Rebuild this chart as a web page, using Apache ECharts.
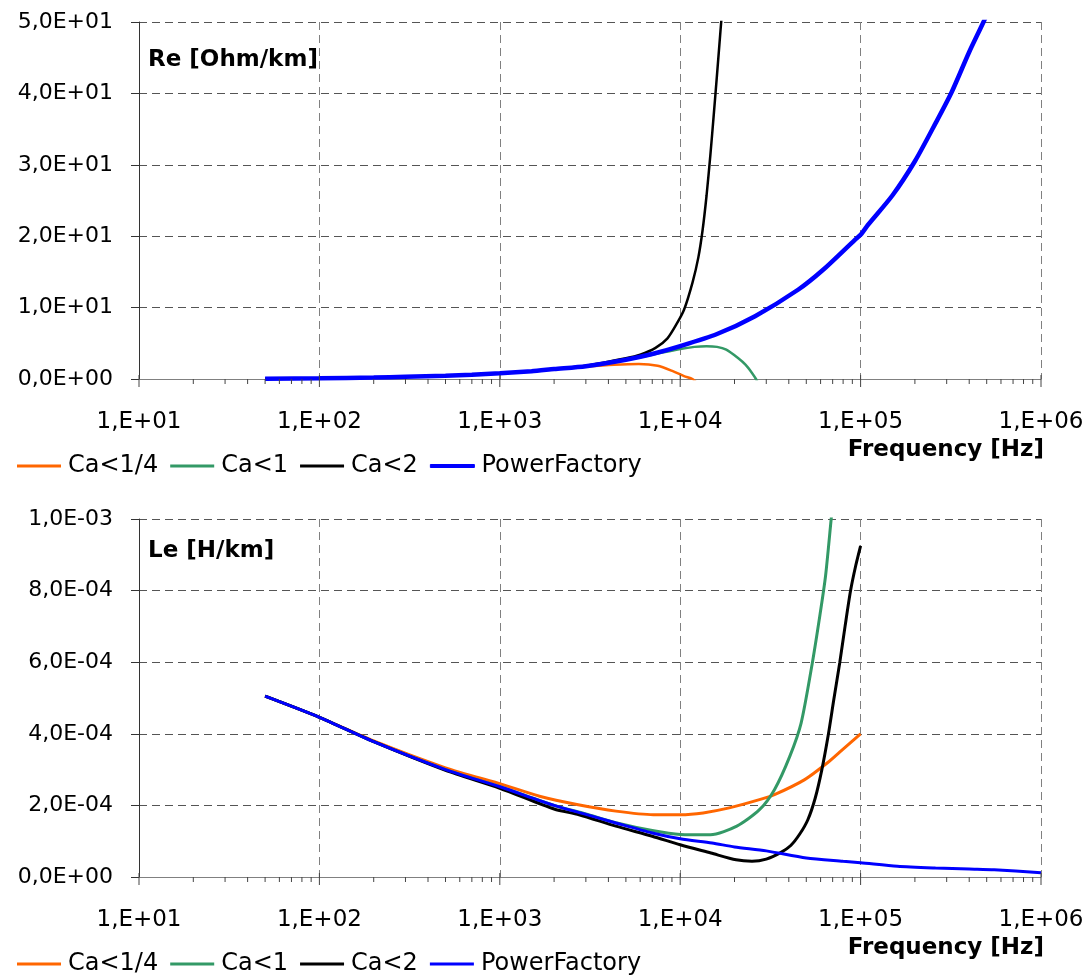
<!DOCTYPE html>
<html>
<head>
<meta charset="utf-8">
<title>Re / Le vs frequency</title>
<script src="https://cdn.jsdelivr.net/npm/echarts@6/dist/echarts.min.js"></script>
<style>
  html, body { margin: 0; padding: 0; background: #fff; }
  #chart { width: 1091px; height: 975px; }
</style>
</head>
<body>
<div id="chart"></div>
<script>
const FONT = 'DejaVu Sans'

const seriesNames = ['Ca<1/4', 'Ca<1', 'Ca<2', 'PowerFactory']
const seriesColors = ['#ff6600', '#339966', '#000000', '#0000ff']

// Re [Ohm/km]: [frequency Hz, value]
const reCa14 = [[50, 0.05], [100, 0.12], [200, 0.2], [300, 0.3], [500, 0.45], [700, 0.58], [1000, 0.8],
  [1500, 1.1], [2000, 1.4], [3000, 1.75], [4300, 2.0], [5900, 2.1], [7500, 1.85], [9100, 1.1],
  [10500, 0.4], [11700, 0], [12200, -0.4]]
const reCa1 = [[50, 0.05], [100, 0.12], [200, 0.2], [300, 0.3], [500, 0.45], [700, 0.58], [1000, 0.8],
  [1500, 1.1], [2000, 1.4], [3000, 1.8], [5000, 2.7], [7000, 3.4], [10000, 4.2], [12000, 4.5],
  [14000, 4.6], [16000, 4.5], [18000, 4.1], [21000, 2.9], [23000, 2.0], [25000, 0.85], [26300, 0], [27000, -0.6]]
const reCa2 = [[50, 0.05], [100, 0.12], [200, 0.2], [300, 0.3], [500, 0.45], [700, 0.58], [1000, 0.8],
  [1500, 1.1], [2000, 1.4], [3000, 1.85], [5000, 2.9], [6000, 3.4], [7300, 4.35], [8500, 5.7],
  [9500, 7.6], [10500, 9.7], [11700, 13.5], [12600, 17.0], [13300, 20.8], [14000, 25.7],
  [14700, 31.4], [15300, 36.6], [15900, 41.8], [16500, 46.9], [17000, 51], [17300, 53]]
const rePF = [[50, 0.05], [100, 0.12], [200, 0.2], [300, 0.3], [500, 0.45], [700, 0.58], [1000, 0.8],
  [1500, 1.1], [2000, 1.4], [3000, 1.8], [5000, 2.7], [7000, 3.5], [10000, 4.6], [16000, 6.3],
  [26000, 8.8], [45000, 12.5], [62000, 15.3], [93000, 19.5], [100000, 20.2], [110000, 21.6],
  [150000, 25.7], [200000, 30.5], [260000, 35.8], [320000, 40.2], [400000, 45.8], [480000, 50], [520000, 52]]

// Le [H/km]: [frequency Hz, value]
const leCa14 = [[50, 5.05e-4], [100, 4.46e-4], [200, 3.8e-4], [500, 3.05e-4], [1040, 2.58e-4],
  [1680, 2.25e-4], [2720, 2.02e-4], [4400, 1.84e-4], [7100, 1.74e-4], [10000, 1.74e-4],
  [13400, 1.79e-4], [18700, 1.93e-4], [27500, 2.16e-4], [33300, 2.3e-4], [49000, 2.72e-4],
  [65500, 3.19e-4], [79400, 3.56e-4], [100000, 4.0e-4]]
const leCa1 = [[50, 5.05e-4], [100, 4.46e-4], [200, 3.78e-4], [500, 3.0e-4], [1000, 2.52e-4],
  [2000, 2.0e-4], [3000, 1.76e-4], [4400, 1.52e-4], [7000, 1.3e-4], [10000, 1.19e-4],
  [14700, 1.18e-4], [20600, 1.42e-4], [27500, 1.88e-4], [33300, 2.44e-4], [40500, 3.37e-4],
  [46800, 4.3e-4], [54000, 5.98e-4], [59400, 7.29e-4], [63900, 8.4e-4], [68700, 10.0e-4], [70000, 10.4e-4]]
const leCa2 = [[50, 5.05e-4], [100, 4.46e-4], [200, 3.78e-4], [500, 2.98e-4], [1000, 2.48e-4],
  [2000, 1.9e-4], [2750, 1.74e-4], [4400, 1.42e-4], [7000, 1.14e-4], [10000, 0.9e-4],
  [14800, 0.67e-4], [20400, 0.48e-4], [25000, 0.44e-4], [30000, 0.5e-4], [36000, 0.68e-4],
  [41000, 0.88e-4], [46000, 1.2e-4], [51000, 1.6e-4], [56000, 2.2e-4], [61000, 3.0e-4],
  [66100, 3.95e-4], [71000, 4.95e-4], [76700, 6.0e-4], [82000, 7.0e-4], [88000, 8.0e-4],
  [94000, 8.7e-4], [100000, 9.25e-4]]
const lePF = [[50, 5.05e-4], [100, 4.46e-4], [200, 3.78e-4], [500, 3.0e-4], [1000, 2.52e-4],
  [2000, 2.0e-4], [3000, 1.75e-4], [4400, 1.51e-4], [7000, 1.23e-4], [10000, 1.07e-4],
  [15000, 0.95e-4], [20000, 0.84e-4], [30000, 0.73e-4], [50000, 0.53e-4], [80000, 0.44e-4],
  [100000, 0.4e-4], [160000, 0.3e-4], [260000, 0.25e-4], [400000, 0.22e-4], [550000, 0.2e-4],
  [1000000, 0.12e-4]]

// log axis ticks: decades (major) and 2..9 (minor)
const decades = [10, 100, 1000, 10000, 100000, 1000000]
const tickData = []
decades.forEach((d, i) => {
  tickData.push([d, 0, 1])
  if (i < decades.length - 1) {
    for (let m = 2; m <= 9; m++) tickData.push([d * m, 0, 0])
  }
})

function sciLabel(v) {
  if (v === 0) return '0,0E+00'
  const parts = v.toExponential(1).split('e')
  const n = parseInt(parts[1], 10)
  return parts[0].replace('.', ',') + 'E' + (n < 0 ? '-' : '+') + String(Math.abs(n)).padStart(2, '0')
}

function freqLabel(v) {
  return '1,E+' + String(Math.round(Math.log10(v))).padStart(2, '0')
}

function tickItem(params, api) {
  const p = api.coord([api.value(0), 0])
  const major = api.value(2) === 1
  return {
    type: 'line',
    shape: { x1: p[0], y1: p[1] - (major ? 4 : 0), x2: p[0], y2: p[1] + (major ? 8 : 5) },
    style: { stroke: '#444', lineWidth: 1 }
  }
}

function xAxisOpt(gridIndex) {
  return {
    type: 'log',
    logBase: 10,
    gridIndex,
    min: 10,
    max: 1000000,
    axisLine: { lineStyle: { color: '#808080', width: 1 } },
    axisTick: { show: false },
    axisLabel: { formatter: freqLabel, color: '#000', fontFamily: FONT, fontSize: 23, margin: 32 },
    splitLine: { show: true, lineStyle: { color: '#808080', type: [8, 5], width: 1 } }
  }
}

function yAxisOpt(gridIndex, max, interval) {
  return {
    type: 'value',
    gridIndex,
    min: 0,
    max,
    interval,
    axisLine: { show: true, lineStyle: { color: '#333', width: 1 } },
    axisTick: { show: true, length: 8, lineStyle: { color: '#333' } },
    axisLabel: { formatter: sciLabel, color: '#000', fontFamily: FONT, fontSize: 22, margin: 26 },
    splitLine: { show: true, lineStyle: { color: '#555', type: [8, 5], width: 1 } }
  }
}

function lineSeries(name, data, idx, color, width) {
  return {
    name,
    type: 'line',
    xAxisIndex: idx,
    yAxisIndex: idx,
    data,
    symbol: 'none',
    smooth: 0.25,
    clip: true,
    lineStyle: { color, width },
    itemStyle: { color },
    animation: false
  }
}

function tickSeries(idx) {
  return {
    type: 'custom',
    xAxisIndex: idx,
    yAxisIndex: idx,
    data: tickData,
    renderItem: tickItem,
    silent: true,
    animation: false,
    z: 5
  }
}

function legendOpt(top, pfBorder) {
  return {
    top,
    left: 12,
    icon: 'rect',
    itemWidth: 44,
    itemHeight: 3,
    itemGap: 12,
    selectedMode: false,
    data: seriesNames.map((name, i) => (i === 3 && pfBorder
      ? { name, itemStyle: { borderColor: seriesColors[i], borderWidth: pfBorder } }
      : { name, itemStyle: { borderWidth: 0 } })),
    textStyle: { color: '#000', fontFamily: FONT, fontSize: 24, padding: [0, 0, 0, 2] }
  }
}

const titleStyle = { color: '#000', fontFamily: FONT, fontSize: 23, fontWeight: 'bold' }

const chart = echarts.init(document.getElementById('chart'), null, { renderer: 'canvas' })
chart.setOption({
  backgroundColor: '#fff',
  animation: false,
  title: [
    { text: 'Re [Ohm/km]', left: 143, top: 44, textStyle: titleStyle },
    { text: 'Frequency [Hz]', right: 42, top: 434, textStyle: titleStyle },
    { text: 'Le [H/km]', left: 143, top: 535, textStyle: titleStyle },
    { text: 'Frequency [Hz]', right: 42, top: 932, textStyle: titleStyle }
  ],
  legend: [legendOpt(449, 1), legendOpt(947, 0)],
  grid: [
    { left: 139, right: 50, top: 22, height: 357 },
    { left: 139, right: 50, top: 519, height: 358 }
  ],
  xAxis: [xAxisOpt(0), xAxisOpt(1)],
  yAxis: [yAxisOpt(0, 50, 10), yAxisOpt(1, 0.001, 0.0002)],
  series: [
    lineSeries(seriesNames[0], reCa14, 0, seriesColors[0], 2.5),
    lineSeries(seriesNames[1], reCa1, 0, seriesColors[1], 2.5),
    lineSeries(seriesNames[2], reCa2, 0, seriesColors[2], 2.5),
    lineSeries(seriesNames[3], rePF, 0, seriesColors[3], 4.5),
    lineSeries(seriesNames[0], leCa14, 1, seriesColors[0], 3),
    lineSeries(seriesNames[1], leCa1, 1, seriesColors[1], 3),
    lineSeries(seriesNames[2], leCa2, 1, seriesColors[2], 3),
    lineSeries(seriesNames[3], lePF, 1, seriesColors[3], 3),
    tickSeries(0),
    tickSeries(1)
  ]
})
</script>
</body>
</html>
